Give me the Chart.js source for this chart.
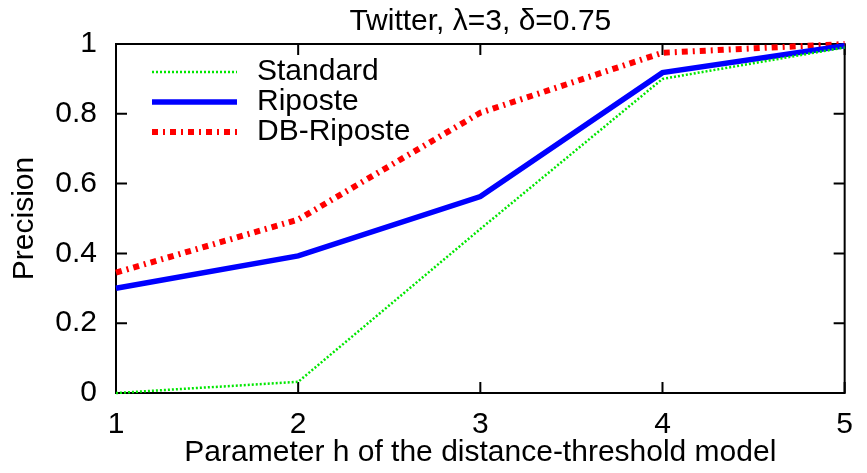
<!DOCTYPE html>
<html>
<head>
<meta charset="utf-8">
<script src="https://cdn.jsdelivr.net/npm/chart.js@4"></script>
<style>
  body { margin: 0; background: #fff; }
  #wrap { width: 867px; height: 473px; }
</style>
</head>
<body>
<div id="wrap"><canvas id="chart" width="867" height="473"></canvas></div>
<script>
// valores
const hValues = [1, 2, 3, 4, 5];
const standard = [0.0, 0.032, 0.47, 0.90, 0.99];
const riposte = [0.30, 0.393, 0.563, 0.918, 0.995];
const dbRiposte = [0.345, 0.497, 0.803, 0.975, 1.0];
const seriesNames = ['Standard', 'Riposte', 'DB-Riposte'];
const yTicks = [0, 0.2, 0.4, 0.6, 0.8, 1];
const titulo = 'Twitter, \u03bb=3, \u03b4=0.75';

const FONT = '"Liberation Sans", Arial, sans-serif';
Chart.defaults.font.family = FONT;
Chart.defaults.font.size = 30;
Chart.defaults.color = '#000';

const pontos = (ys) => hValues.map((h, i) => ({ x: h, y: ys[i] }));

// moldura, ticks para dentro, título e legenda no estilo gnuplot
const gnuplotLook = {
    id: 'gnuplotLook',
    beforeDatasetsDraw(chart) {
        const { ctx, chartArea: a, scales } = chart;
        const len = 11;
        ctx.save();
        ctx.strokeStyle = '#000';
        ctx.lineWidth = 2;
        ctx.strokeRect(a.left, a.top, a.right - a.left, a.bottom - a.top);
        ctx.beginPath();
        yTicks.forEach(v => {
            const y = scales.y.getPixelForValue(v);
            ctx.moveTo(a.left, y); ctx.lineTo(a.left + len, y);
            ctx.moveTo(a.right, y); ctx.lineTo(a.right - len, y);
        });
        hValues.forEach(v => {
            const x = scales.x.getPixelForValue(v);
            ctx.moveTo(x, a.bottom); ctx.lineTo(x, a.bottom - len);
            ctx.moveTo(x, a.top); ctx.lineTo(x, a.top + len);
        });
        ctx.stroke();
        ctx.restore();
    },
    afterDraw(chart) {
        const { ctx, chartArea: a } = chart;
        ctx.save();
        ctx.fillStyle = '#000';
        ctx.font = '30px ' + FONT;
        ctx.textAlign = 'center';
        ctx.textBaseline = 'middle';
        ctx.fillText(titulo, (a.left + a.right) / 2, 22);

        // legenda
        ctx.textAlign = 'left';
        chart.data.datasets.forEach((ds, i) => {
            const y = a.top + 28 + i * 30;
            ctx.beginPath();
            ctx.strokeStyle = ds.borderColor;
            ctx.lineWidth = ds.borderWidth;
            ctx.setLineDash(ds.borderDash || []);
            ctx.lineCap = 'butt';
            ctx.moveTo(a.left + 36, y);
            ctx.lineTo(a.left + 121, y);
            ctx.stroke();
            ctx.setLineDash([]);
            ctx.fillText(ds.label, a.left + 141, y);
        });
        ctx.restore();
    }
};

new Chart(document.getElementById('chart'), {
    type: 'line',
    data: {
        datasets: [
            {
                label: seriesNames[0],
                data: pontos(standard),
                borderColor: '#00e600',
                borderWidth: 2.5,
                borderDash: [2, 2]
            },
            {
                label: seriesNames[1],
                data: pontos(riposte),
                borderColor: '#0000ff',
                borderWidth: 5.5
            },
            {
                label: seriesNames[2],
                data: pontos(dbRiposte),
                borderColor: '#ff0000',
                borderWidth: 6,
                borderDash: [6, 5, 2, 5]
            }
        ]
    },
    options: {
        responsive: false,
        animation: false,
        clip: false,
        layout: { padding: { left: 0, right: 18, top: 44, bottom: 0 } },
        elements: {
            point: { radius: 0 },
            line: { tension: 0, borderCapStyle: 'butt', fill: false }
        },
        plugins: {
            legend: { display: false },
            title: { display: false },
            tooltip: { enabled: false }
        },
        scales: {
            x: {
                type: 'linear',
                min: 1, max: 5,
                grid: { display: false, drawTicks: false },
                border: { display: false },
                ticks: { stepSize: 1, padding: 14 },
                title: {
                    display: true,
                    text: 'Parameter h of the distance-threshold model',
                    padding: { top: 0, bottom: 2 }
                },
                afterFit(scale) { scale.height = 80; }
            },
            y: {
                min: 0, max: 1,
                grid: { display: false, drawTicks: false },
                border: { display: false },
                ticks: {
                    stepSize: 0.2,
                    padding: 19,
                    callback: (v) => String(Math.round(v * 10) / 10)
                },
                title: {
                    display: true,
                    text: 'Precision',
                    padding: { top: 7, bottom: 0 }
                },
                afterFit(scale) { scale.width = 116; }
            }
        }
    },
    plugins: [gnuplotLook]
});
</script>
</body>
</html>
